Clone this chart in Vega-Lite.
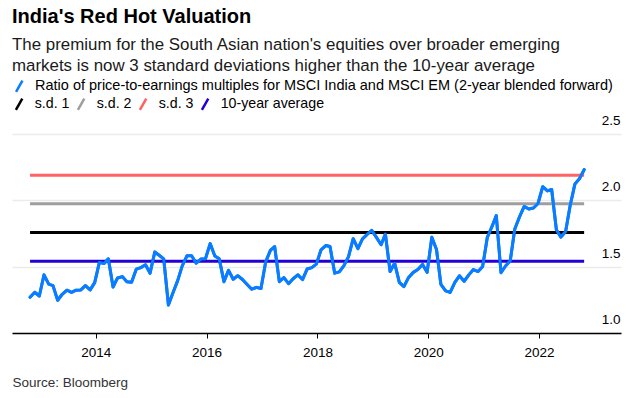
{
  "$schema": "https://vega.github.io/schema/vega-lite/v6.json",
  "width": 609,
  "height": 199,
  "autosize": {"type": "pad"},
  "padding": {"left": 12, "right": 11, "top": 7, "bottom": 4},
  "background": "#ffffff",
  "title": {
    "text": "India's Red Hot Valuation",
    "subtitle": [
      "The premium for the South Asian nation's equities over broader emerging",
      "markets is now 3 standard deviations higher than the 10-year average"
    ],
    "anchor": "start",
    "frame": "group",
    "font": "Liberation Sans",
    "fontSize": 20,
    "fontWeight": "bold",
    "color": "#000000",
    "subtitleFont": "Liberation Sans",
    "subtitleFontSize": 16.9,
    "subtitleColor": "#1a1a1a",
    "subtitleLineHeight": 21,
    "subtitlePadding": 10,
    "offset": 5
  },
  "datasets": {
    "ratio": [
      {"date": "2012-10-25", "value": 1.270},
      {"date": "2012-11-25", "value": 1.307},
      {"date": "2012-12-25", "value": 1.279},
      {"date": "2013-01-25", "value": 1.438},
      {"date": "2013-02-25", "value": 1.368},
      {"date": "2013-03-25", "value": 1.357},
      {"date": "2013-04-25", "value": 1.247},
      {"date": "2013-05-25", "value": 1.292},
      {"date": "2013-06-25", "value": 1.323},
      {"date": "2013-07-25", "value": 1.307},
      {"date": "2013-08-25", "value": 1.323},
      {"date": "2013-09-25", "value": 1.325},
      {"date": "2013-10-25", "value": 1.357},
      {"date": "2013-11-25", "value": 1.325},
      {"date": "2013-12-25", "value": 1.380},
      {"date": "2014-01-25", "value": 1.532},
      {"date": "2014-02-25", "value": 1.523},
      {"date": "2014-03-25", "value": 1.559},
      {"date": "2014-04-25", "value": 1.347},
      {"date": "2014-05-25", "value": 1.415},
      {"date": "2014-06-25", "value": 1.425},
      {"date": "2014-07-25", "value": 1.387},
      {"date": "2014-08-25", "value": 1.383},
      {"date": "2014-09-25", "value": 1.481},
      {"date": "2014-10-25", "value": 1.493},
      {"date": "2014-11-25", "value": 1.514},
      {"date": "2014-12-25", "value": 1.451},
      {"date": "2015-01-25", "value": 1.610},
      {"date": "2015-02-25", "value": 1.584},
      {"date": "2015-03-25", "value": 1.559},
      {"date": "2015-04-25", "value": 1.211},
      {"date": "2015-05-25", "value": 1.304},
      {"date": "2015-06-25", "value": 1.395},
      {"date": "2015-07-25", "value": 1.506},
      {"date": "2015-08-25", "value": 1.582},
      {"date": "2015-09-25", "value": 1.582},
      {"date": "2015-10-25", "value": 1.526},
      {"date": "2015-11-25", "value": 1.557},
      {"date": "2015-12-25", "value": 1.559},
      {"date": "2016-01-25", "value": 1.674},
      {"date": "2016-02-25", "value": 1.580},
      {"date": "2016-03-25", "value": 1.559},
      {"date": "2016-04-25", "value": 1.387},
      {"date": "2016-05-25", "value": 1.472},
      {"date": "2016-06-25", "value": 1.405},
      {"date": "2016-07-25", "value": 1.432},
      {"date": "2016-08-25", "value": 1.403},
      {"date": "2016-09-25", "value": 1.366},
      {"date": "2016-10-25", "value": 1.330},
      {"date": "2016-11-25", "value": 1.344},
      {"date": "2016-12-25", "value": 1.335},
      {"date": "2017-01-25", "value": 1.536},
      {"date": "2017-02-25", "value": 1.623},
      {"date": "2017-03-25", "value": 1.652},
      {"date": "2017-04-25", "value": 1.387},
      {"date": "2017-05-25", "value": 1.417},
      {"date": "2017-06-25", "value": 1.372},
      {"date": "2017-07-25", "value": 1.409},
      {"date": "2017-08-25", "value": 1.438},
      {"date": "2017-09-25", "value": 1.403},
      {"date": "2017-10-25", "value": 1.482},
      {"date": "2017-11-25", "value": 1.493},
      {"date": "2017-12-25", "value": 1.519},
      {"date": "2018-01-25", "value": 1.627},
      {"date": "2018-02-25", "value": 1.659},
      {"date": "2018-03-25", "value": 1.652},
      {"date": "2018-04-25", "value": 1.451},
      {"date": "2018-05-25", "value": 1.461},
      {"date": "2018-06-25", "value": 1.508},
      {"date": "2018-07-25", "value": 1.576},
      {"date": "2018-08-25", "value": 1.711},
      {"date": "2018-09-25", "value": 1.636},
      {"date": "2018-10-25", "value": 1.710},
      {"date": "2018-11-25", "value": 1.744},
      {"date": "2018-12-25", "value": 1.773},
      {"date": "2019-01-25", "value": 1.721},
      {"date": "2019-02-25", "value": 1.665},
      {"date": "2019-03-25", "value": 1.746},
      {"date": "2019-04-25", "value": 1.463},
      {"date": "2019-05-25", "value": 1.526},
      {"date": "2019-06-25", "value": 1.381},
      {"date": "2019-07-25", "value": 1.350},
      {"date": "2019-08-25", "value": 1.419},
      {"date": "2019-09-25", "value": 1.457},
      {"date": "2019-10-25", "value": 1.478},
      {"date": "2019-11-25", "value": 1.517},
      {"date": "2019-12-25", "value": 1.457},
      {"date": "2020-01-25", "value": 1.721},
      {"date": "2020-02-25", "value": 1.629},
      {"date": "2020-03-25", "value": 1.366},
      {"date": "2020-04-25", "value": 1.317},
      {"date": "2020-05-25", "value": 1.306},
      {"date": "2020-06-25", "value": 1.381},
      {"date": "2020-07-25", "value": 1.431},
      {"date": "2020-08-25", "value": 1.390},
      {"date": "2020-09-25", "value": 1.438},
      {"date": "2020-10-25", "value": 1.478},
      {"date": "2020-11-25", "value": 1.463},
      {"date": "2020-12-25", "value": 1.501},
      {"date": "2021-01-25", "value": 1.721},
      {"date": "2021-02-25", "value": 1.803},
      {"date": "2021-03-25", "value": 1.885},
      {"date": "2021-04-25", "value": 1.455},
      {"date": "2021-05-25", "value": 1.505},
      {"date": "2021-06-25", "value": 1.545},
      {"date": "2021-07-25", "value": 1.784},
      {"date": "2021-08-25", "value": 1.875},
      {"date": "2021-09-25", "value": 1.954},
      {"date": "2021-10-25", "value": 1.935},
      {"date": "2021-11-25", "value": 1.942},
      {"date": "2021-12-25", "value": 1.976},
      {"date": "2022-01-25", "value": 2.103},
      {"date": "2022-02-25", "value": 2.071},
      {"date": "2022-03-25", "value": 2.082},
      {"date": "2022-04-25", "value": 1.778},
      {"date": "2022-05-25", "value": 1.723},
      {"date": "2022-06-25", "value": 1.765},
      {"date": "2022-07-25", "value": 1.961},
      {"date": "2022-08-25", "value": 2.122},
      {"date": "2022-09-25", "value": 2.165},
      {"date": "2022-10-25", "value": 2.231}
    ],
    "levels": [
      {"level": "s.d. 1", "value": 1.757, "start": "2012-10-25", "end": "2022-10-25"},
      {"level": "s.d. 2", "value": 1.974, "start": "2012-10-25", "end": "2022-10-25"},
      {"level": "s.d. 3", "value": 2.19, "start": "2012-10-25", "end": "2022-10-25"},
      {"level": "10-year average", "value": 1.54, "start": "2012-10-25", "end": "2022-10-25"}
    ]
  },
  "layer": [
    {
      "data": {"name": "ratio"},
      "mark": {"type": "line", "strokeWidth": 3, "strokeJoin": "round", "strokeCap": "round"},
      "encoding": {
        "x": {
          "field": "date",
          "type": "temporal",
          "scale": {
            "type": "utc",
            "domain": [
              {"year": 2012, "month": 6, "date": 28, "utc": true},
              {"year": 2023, "month": 6, "date": 25, "utc": true}
            ],
            "nice": false
          },
          "axis": {
            "values": [
              {"year": 2014, "month": 1, "date": 1, "utc": true},
              {"year": 2016, "month": 1, "date": 1, "utc": true},
              {"year": 2018, "month": 1, "date": 1, "utc": true},
              {"year": 2020, "month": 1, "date": 1, "utc": true},
              {"year": 2022, "month": 1, "date": 1, "utc": true}
            ],
            "format": "%Y",
            "formatType": "utc",
            "grid": false,
            "labelFlush": false,
            "labelFont": "Liberation Sans",
            "labelFontSize": 13.5,
            "labelColor": "#000000",
            "labelPadding": 7.5,
            "tickColor": "#000000",
            "tickSize": 5,
            "tickWidth": 1,
            "domainColor": "#000000",
            "domainWidth": 1.5,
            "title": "Source: Bloomberg",
            "titleAnchor": "start",
            "titleAlign": "left",
            "titleFont": "Liberation Sans",
            "titleFontSize": 13.5,
            "titleFontWeight": "normal",
            "titleColor": "#333333",
            "titlePadding": 16.5
          }
        },
        "y": {
          "field": "value",
          "type": "quantitative",
          "scale": {"domain": [1, 2.5], "nice": false, "zero": false},
          "axis": {
            "orient": "right",
            "values": [1, 1.5, 2, 2.5],
            "format": ".1f",
            "title": null,
            "domain": false,
            "ticks": false,
            "tickSize": 0,
            "grid": true,
            "gridColor": "#ebebeb",
            "gridWidth": 1.5,
            "labelAlign": "right",
            "labelBaseline": "alphabetic",
            "labelPadding": -1,
            "labelOffset": -9.5,
            "labelFont": "Liberation Sans",
            "labelFontSize": 13.5,
            "labelColor": "#000000"
          }
        },
        "color": {
          "datum": "Ratio of price-to-earnings multiples for MSCI India and MSCI EM (2-year blended forward)",
          "type": "nominal",
          "scale": {
            "domain": ["Ratio of price-to-earnings multiples for MSCI India and MSCI EM (2-year blended forward)"],
            "range": ["#0a7cff"]
          },
          "legend": {
            "orient": "top",
            "title": null,
            "symbolType": "M-0.8,1.4L0.8,-1.4",
            "symbolSize": 64,
            "symbolStrokeWidth": 2.5,
            "labelFont": "Liberation Sans",
            "labelFontSize": 14.5,
            "labelColor": "#000000",
            "labelOffset": 8.5,
            "labelLimit": 800,
            "padding": 0
          }
        }
      }
    },
    {
      "data": {"name": "levels"},
      "mark": {"type": "rule", "strokeWidth": 3},
      "encoding": {
        "x": {"field": "start", "type": "temporal"},
        "x2": {"field": "end"},
        "y": {"field": "value", "type": "quantitative"},
        "stroke": {
          "field": "level",
          "type": "nominal",
          "scale": {
            "domain": ["s.d. 1", "s.d. 2", "s.d. 3", "10-year average"],
            "range": ["#000000", "#9e9e9e", "#ff6262", "#2400d4"]
          },
          "legend": {
            "orient": "top",
            "direction": "horizontal",
            "title": null,
            "symbolType": "M-0.8,1.4L0.8,-1.4",
            "symbolSize": 64,
            "symbolStrokeWidth": 2.5,
            "labelFont": "Liberation Sans",
            "labelFontSize": 14.2,
            "labelColor": "#000000",
            "labelOffset": 8.5,
            "columnPadding": 2,
            "padding": 0
          }
        }
      }
    },
    {
      "data": {"name": "ratio"},
      "mark": {"type": "line", "strokeWidth": 3, "strokeJoin": "round", "strokeCap": "round"},
      "encoding": {
        "x": {"field": "date", "type": "temporal"},
        "y": {"field": "value", "type": "quantitative"},
        "color": {
          "datum": "Ratio of price-to-earnings multiples for MSCI India and MSCI EM (2-year blended forward)",
          "type": "nominal"
        }
      }
    }
  ],
  "config": {
    "view": {"stroke": null},
    "font": "Liberation Sans",
    "legend": {
      "offset": 19,
      "layout": {"top": {"anchor": "start", "direction": "vertical", "margin": 0}}
    }
  }
}
